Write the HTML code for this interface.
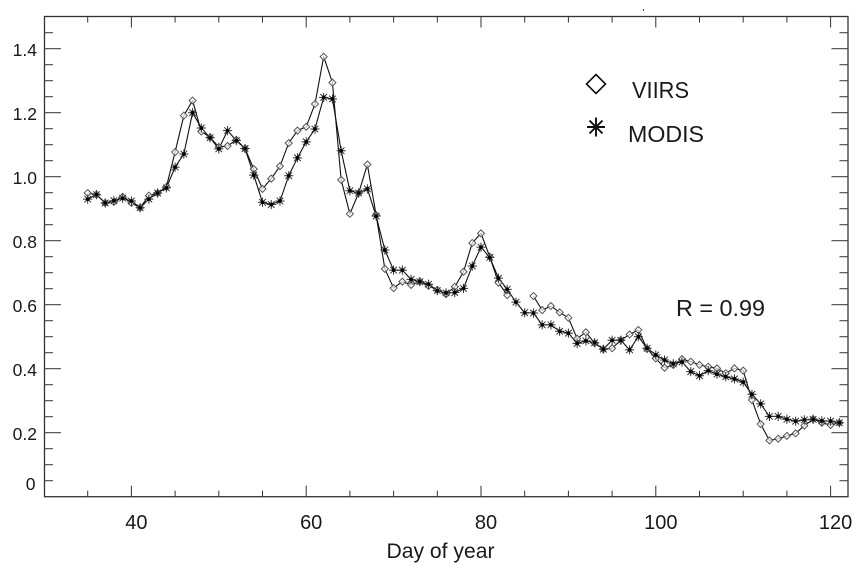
<!DOCTYPE html>
<html lang="en">
<head>
<meta charset="utf-8">
<title>VIIRS vs MODIS by day of year</title>
<style>
  html, body { margin: 0; padding: 0; background: #fff; }
  body { width: 863px; height: 574px; overflow: hidden; }
  svg { display: block; }
  text { font-family: "Liberation Sans", sans-serif; fill: #1a1a1a; }
</style>
</head>
<body>
<svg id="chart" xmlns="http://www.w3.org/2000/svg" width="863" height="574" viewBox="0 0 863 574">
  <rect x="643" y="9" width="1" height="2" fill="#555"/>
  <g id="axes"></g>
  <g id="series"></g>
  <g>
    <path d="M596 74.5L605.5 84L596 93.5L586.5 84Z" fill="none" stroke="#111" stroke-width="1.6"/>
    <text x="632" y="98" font-size="23" textLength="57" lengthAdjust="spacingAndGlyphs">VIIRS</text>
    <path d="M596 117.5V136.5M587 127H605M589.5 120.5L602.5 133.5M602.5 120.5L589.5 133.5" fill="none" stroke="#111" stroke-width="1.9"/>
    <text x="628" y="142" font-size="23" textLength="76" lengthAdjust="spacingAndGlyphs">MODIS</text>
  </g>
  <text x="676" y="316" font-size="23" textLength="89" lengthAdjust="spacingAndGlyphs">R = 0.99</text>
  <text x="386.5" y="558" font-size="21" textLength="108" lengthAdjust="spacingAndGlyphs">Day of year</text>
</svg>
<script>
const days = [35,36,37,38,39,40,41,42,43,44,45,46,47,48,49,50,51,52,53,54,55,56,57,58,59,60,61,62,63,64,65,66,67,68,69,70,71,72,73,74,75,76,77,78,79,80,81,82,83,84,85,86,87,88,89,90,91,92,93,94,95,96,97,98,99,100,101,102,103,104,105,106,107,108,109,110,111,112,113,114,115,116,117,118,119,120,121];
const viirs = [.949,.944,.918,.921,.937,.918,.903,.941,.949,.968,1.077,1.191,1.238,1.141,1.123,1.093,1.096,1.115,1.088,1.024,.962,.994,1.033,1.105,1.144,1.156,1.227,1.375,1.294,.990,.884,.949,1.038,.880,.712,.652,.672,.662,.672,.659,.646,.633,.656,.703,.793,.823,.750,.669,.630,null,null,.627,.583,.596,.576,.559,.494,.514,.480,.461,.464,.489,.507,.521,.462,.432,.403,.412,.430,.422,.412,.406,.401,.386,.401,.394,.302,.227,.176,.181,.190,.198,.222,.242,.231,.224,.231];
const modis = [.930,.944,.918,.925,.933,.924,.903,.930,.949,.965,1.030,1.071,1.200,1.152,1.122,1.087,1.144,1.113,1.088,1.005,.920,.913,.924,1.003,1.059,1.109,1.149,1.248,1.243,1.081,.956,.949,.962,.877,.771,.708,.708,.679,.672,.664,.644,.637,.638,.651,.721,.780,.748,.683,.648,.608,.575,.574,.537,.537,.517,.511,.479,.487,.481,.461,.489,.489,.459,.500,.464,.443,.427,.415,.421,.391,.378,.394,.383,.375,.368,.358,.320,.290,.251,.251,.242,.236,.240,.242,.237,.236,.231];
const xMajorTicks = [40,60,80,100,120];
const xMinorTicks = [35,45,50,55,65,70,75,85,90,95,105,110,115];
const yMajorTicks = [0.2,0.4,0.6,0.8,1.0,1.2,1.4];
const yMinorTicks = [0.05,0.1,0.15,0.25,0.3,0.35,0.45,0.5,0.55,0.65,0.7,0.75,0.85,0.9,0.95,1.05,1.1,1.15,1.25,1.3,1.35,1.45];
const xTickLabels = ["40","60","80","100","120"];
const yTickLabels = ["0.2","0.4","0.6","0.8","1.0","1.2","1.4"];

const NS = "http://www.w3.org/2000/svg";
const frame = { left: 44.5, right: 848, top: 16.5, bottom: 496.7 };
function xScale(d) { return 131.4 + (d - 40) * 8.74; }
function yScale(v) { return frame.bottom - v * 320; }

function make(tag, attrs, parent) {
  const el = document.createElementNS(NS, tag);
  for (const k in attrs) el.setAttribute(k, attrs[k]);
  parent.appendChild(el);
  return el;
}

const axes = document.getElementById("axes");
const series = document.getElementById("series");

const frameRect = make("rect", { x: frame.left, y: frame.top, width: frame.right - frame.left, height: frame.bottom - frame.top, fill: "none", stroke: "#333", "stroke-width": 1.3 }, axes);



function xTick(d, len) {
  const x = xScale(d);
  const b = make("line", { x1: x, x2: x, y1: frame.bottom, y2: frame.bottom - len, stroke: "#333", "stroke-width": 1 }, axes);
  
  
  const t = make("line", { x1: x, x2: x, y1: frame.top, y2: frame.top + len, stroke: "#333", "stroke-width": 1 }, axes);
  
  
}
function yTick(v, len) {
  const y = yScale(v);
  const l = make("line", { x1: frame.left, x2: frame.left + len, y1: y, y2: y, stroke: "#444", "stroke-width": 1.1 }, axes);
  
  
  const r = make("line", { x1: frame.right, x2: frame.right - len, y1: y, y2: y, stroke: "#444", "stroke-width": 1.1 }, axes);
  
  
}
xMajorTicks.forEach(d => xTick(d, 11));
xMinorTicks.forEach(d => xTick(d, 6));
yMajorTicks.forEach(v => yTick(v, 16.5));
yMinorTicks.forEach(v => yTick(v, 8.5));

xMajorTicks.forEach((d, i) => {
  const t = make("text", { x: xScale(d) + 5, y: 529, "font-size": 20, "text-anchor": "middle" }, axes);
  t.textContent = xTickLabels[i];
  
  
});
yMajorTicks.forEach((v, i) => {
  const t = make("text", { x: 37, y: yScale(v) + 7.5, "font-size": 17.5, "text-anchor": "end" }, axes);
  t.textContent = yTickLabels[i];
  
  
});
const zeroLabel = make("text", { x: 35.5, y: yScale(0) - 6.7, "font-size": 17.5, "text-anchor": "end" }, axes);
zeroLabel.textContent = "0";



function linePath(values) {
  let d = "", pen = false;
  values.forEach((v, i) => {
    if (v === null) { pen = false; return; }
    d += (pen ? "L" : "M") + xScale(days[i]).toFixed(2) + " " + yScale(v).toFixed(2);
    pen = true;
  });
  return d;
}

const viirsLine = make("path", { d: linePath(viirs), fill: "none", stroke: "#111", "stroke-width": 1.1 }, series);


const modisLine = make("path", { d: linePath(modis), fill: "none", stroke: "#111", "stroke-width": 1.1 }, series);



viirs.forEach((v, i) => {
  if (v === null) return;
  const x = xScale(days[i]), y = yScale(v), r = 3.5;
  const m = make("path", { d: `M${x} ${y - r}L${x + r} ${y}L${x} ${y + r}L${x - r} ${y}Z`, fill: "#fff", "fill-opacity": 0.7, stroke: "#555", "stroke-width": 1 }, series);
  
  
});
modis.forEach((v, i) => {
  const x = xScale(days[i]), y = yScale(v), r = 4.6, q = 3.3;
  const m = make("path", { d: `M${x} ${y - r}V${y + r}M${x - r} ${y}H${x + r}M${x - q} ${y - q}L${x + q} ${y + q}M${x + q} ${y - q}L${x - q} ${y + q}`, fill: "none", stroke: "#333", "stroke-width": 1 }, series);
  
  
  const c = make("circle", { cx: x, cy: y, r: 1.9, fill: "#000" }, series);
  
  
});
</script>
</body>
</html>
